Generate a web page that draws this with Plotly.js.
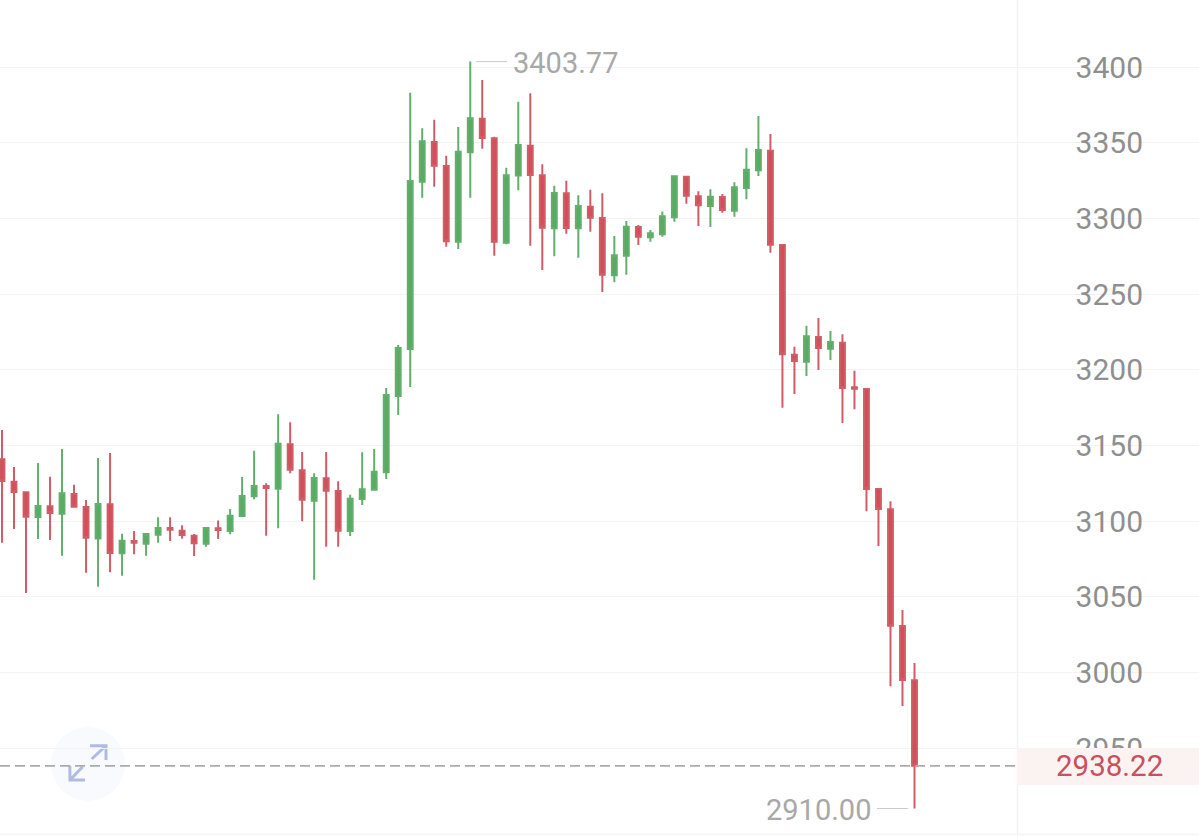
<!DOCTYPE html>
<html>
<head>
<meta charset="utf-8">
<script src="https://cdn.plot.ly/plotly-3.0.1.min.js"></script>
<style>html,body{margin:0;padding:0;background:#fff;overflow:hidden}#chart{width:1199px;height:837px}</style>
</head>
<body>
<div id="chart"></div>
<script>
const opens = [3140.9,3126.1,3119.1,3102.7,3109.8,3104.9,3117.9,3109.3,3088.6,3111.1,3078.7,3086.9,3085.1,3091,3095.5,3093.7,3090.4,3085.1,3095.3,3093.5,3103.4,3116.4,3123.2,3121.4,3150.8,3133.6,3113.5,3128.3,3119.9,3093.5,3114.6,3120.8,3132.3,3182.7,3213.8,3324.4,3350.6,3334.8,3284.7,3343.8,3366,3353.1,3284.1,3328.4,3348.2,3328.6,3293.6,3316.7,3293.6,3307.9,3300.4,3262.5,3275.5,3294.4,3287.6,3289.6,3300.8,3327.7,3314.7,3308.3,3314.3,3305.2,3320.2,3331.9,3344.9,3282.5,3210,3205.4,3221.7,3214,3218,3188.5,3187.3,3121.2,3107.8,3030.7,2994.8];
const highs = [3160.2,3135.8,3119.3,3138.4,3129.4,3147.7,3124.1,3114,3141.7,3145,3091.7,3093.5,3092.2,3102.5,3102.5,3097.2,3091.5,3095.9,3100.5,3108,3129.2,3146.6,3125,3170.6,3165.3,3145.7,3131.6,3145.7,3126.3,3117.5,3145.5,3147.7,3188,3216.4,3383.2,3359.7,3365.4,3341.6,3360.5,3403.77,3391.6,3354.1,3333.6,3377.3,3382.8,3335.9,3321.7,3325,3315.4,3319.1,3316.7,3288.5,3298.4,3295.8,3292.5,3304.6,3328.2,3328,3318,3319.4,3316.3,3324,3346.5,3367.8,3355.9,3282.7,3215.3,3229.2,3234.3,3225.7,3223.5,3199.4,3187.8,3121.7,3113.1,3041.2,3006.2];
const lows = [3085.7,3094.8,3052.5,3088.2,3087.5,3077.1,3109,3065.9,3056.7,3066.2,3063.9,3078.1,3077.1,3085.7,3086.9,3088.4,3076.9,3083.1,3088.2,3091.3,3102.7,3114.4,3090.4,3095.3,3131.6,3099.9,3061.3,3083.1,3083.1,3090.2,3110.7,3120.6,3127.8,3170.2,3188.7,3313.8,3321.1,3281.4,3279.9,3313.8,3346.2,3275.5,3283,3318.7,3282.1,3266,3275.1,3290,3274.1,3291.3,3251.5,3257.9,3262.9,3282.5,3284.7,3288,3297.9,3309.8,3295.1,3294.4,3303.9,3301.2,3312.7,3328.2,3277.4,3175,3184,3195.9,3199.9,3206.5,3164.9,3173.9,3106.5,3083.6,2990.8,2977.8,2910];
const closes = [3126.5,3119.3,3102.9,3110,3105.4,3118.4,3109.5,3089,3111.3,3078.9,3087.1,3085.7,3091.5,3095.5,3094.3,3090.8,3085.3,3095.5,3094.1,3103.6,3116.6,3123.2,3121.9,3151.2,3134,3114.2,3128.5,3120.1,3093.7,3114.8,3121,3132.7,3183.4,3214.4,3324.8,3351.1,3335,3285,3344.2,3366.3,3353.3,3284.7,3328.6,3348.6,3328.8,3294,3316.9,3293.8,3308.3,3300.6,3262.9,3275.7,3294.6,3288,3290.3,3301.5,3328,3315.1,3308.8,3314.5,3305.7,3320.7,3332.3,3345.3,3282.7,3210.3,3205.9,3222.2,3214.4,3218.4,3188,3187.5,3121.2,3108,3030.9,2995,2938.22];
const tickValues = [2950,3000,3050,3100,3150,3200,3250,3300,3350,3400];
const maxLabel = "3403.77";
const minLabel = "2910.00";
const lastLabel = "2938.22";

const W = 1199, H = 837;
const px = v => v / W;
const py = v => 1 - v / H;
const indices = closes.map((_, i) => i);
const hi = Math.max(...highs), lo = Math.min(...lows);
const last = closes[closes.length - 1];
const font = "Roboto, sans-serif";
const grey = "#8f8f8f", soft = "#a8a8a8", red = "#c9505e";
const lineShape = (x0, x1, y, color, extra) => Object.assign({type:"line", xref:"paper", yref:"y", x0:px(x0), x1:px(x1), y0:y, y1:y, line:{color:color, width:1}}, extra || {});

const shapes = [
  {type:"rect", layer:"below", xref:"paper", yref:"paper", x0:px(1031), x1:px(1184), y0:0, y1:1, fillcolor:"#fff", line:{width:0}},
  {type:"line", layer:"below", xref:"paper", yref:"paper", x0:px(1017.5), x1:px(1017.5), y0:0, y1:1, line:{color:"#f3f3f3", width:1.5}},
  {type:"line", layer:"below", xref:"paper", yref:"paper", x0:0, x1:1, y0:py(834.5), y1:py(834.5), line:{color:"#f3f3f3", width:1.5}},
  {type:"circle", layer:"below", xref:"paper", yref:"paper", x0:px(51), x1:px(125), y0:py(727), y1:py(801), fillcolor:"#f8fafe", line:{width:0}},
  {type:"path", layer:"below", xref:"paper", yref:"paper", path:`M${px(91.7)},${py(759)} L${px(105)},${py(746.7)} M${px(90)},${py(745.7)} L${px(106)},${py(745.7)} L${px(106)},${py(760)}`, line:{color:"#afbbe4", width:3}},
  {type:"path", layer:"below", xref:"paper", yref:"paper", path:`M${px(82.7)},${py(766.7)} L${px(70.7)},${py(779.3)} M${px(69.8)},${py(765.7)} L${px(70)},${py(780)} L${px(85)},${py(780)}`, line:{color:"#afbbe4", width:3}},
  lineShape(0, 1015, last, "#ababab", {line:{color:"#ababab", width:1.6, dash:"10px,5px"}}),
  lineShape(476, 507, hi, "#c9c9c9"),
  lineShape(877, 908, lo, "#c9c9c9"),
  {type:"rect", layer:"above", xref:"paper", yref:"paper", x0:px(1017), x1:1, y0:py(785), y1:py(748), fillcolor:"#fbf3f1", line:{width:0}}
];

const annotations = [
  {xref:"paper", yref:"y", x:px(511), y:hi, xanchor:"left", yanchor:"middle", yshift:-1, text:maxLabel, showarrow:false, font:{family:font, size:29, color:soft}},
  {xref:"paper", yref:"y", x:px(873), y:lo, xanchor:"right", yanchor:"middle", yshift:-1, text:minLabel, showarrow:false, font:{family:font, size:29, color:soft}},
  {xref:"paper", yref:"y", x:px(1109), y:last, xanchor:"center", yanchor:"middle", text:lastLabel, showarrow:false, font:{family:font, size:29.5, color:red}}
];

Plotly.newPlot("chart", [{
  type:"candlestick",
  x:indices, open:opens, high:highs, low:lows, close:closes,
  increasing:{line:{color:"#62ae6c", width:2}, fillcolor:"#57ab62"},
  decreasing:{line:{color:"#d25c66", width:2}, fillcolor:"#cf4f5a"},
  whiskerwidth:0, hoverinfo:"skip"
}], {
  width:W, height:H, margin:{l:0,r:0,t:0,b:0,pad:0},
  paper_bgcolor:"#fff", plot_bgcolor:"#fff", showlegend:false, boxgap:0.42,
  xaxis:{visible:false, range:[-2/12.0066, (W-2)/12.0066], rangeslider:{visible:false}, fixedrange:true},
  yaxis:{side:"right", range:[2891.2,3444.49], tickmode:"array", tickvals:tickValues, ticktext:tickValues.map(String),
    ticklabelposition:"inside", ticklabelstandoff:53, ticklabelshift:-1.5, ticks:"", showline:false, zeroline:false,
    showgrid:true, gridcolor:"#f3f3f3", gridwidth:1, tickfont:{family:font, size:30, color:grey}, fixedrange:true},
  shapes:shapes, annotations:annotations
}, {displayModeBar:false, staticPlot:true});
</script>
</body>
</html>
